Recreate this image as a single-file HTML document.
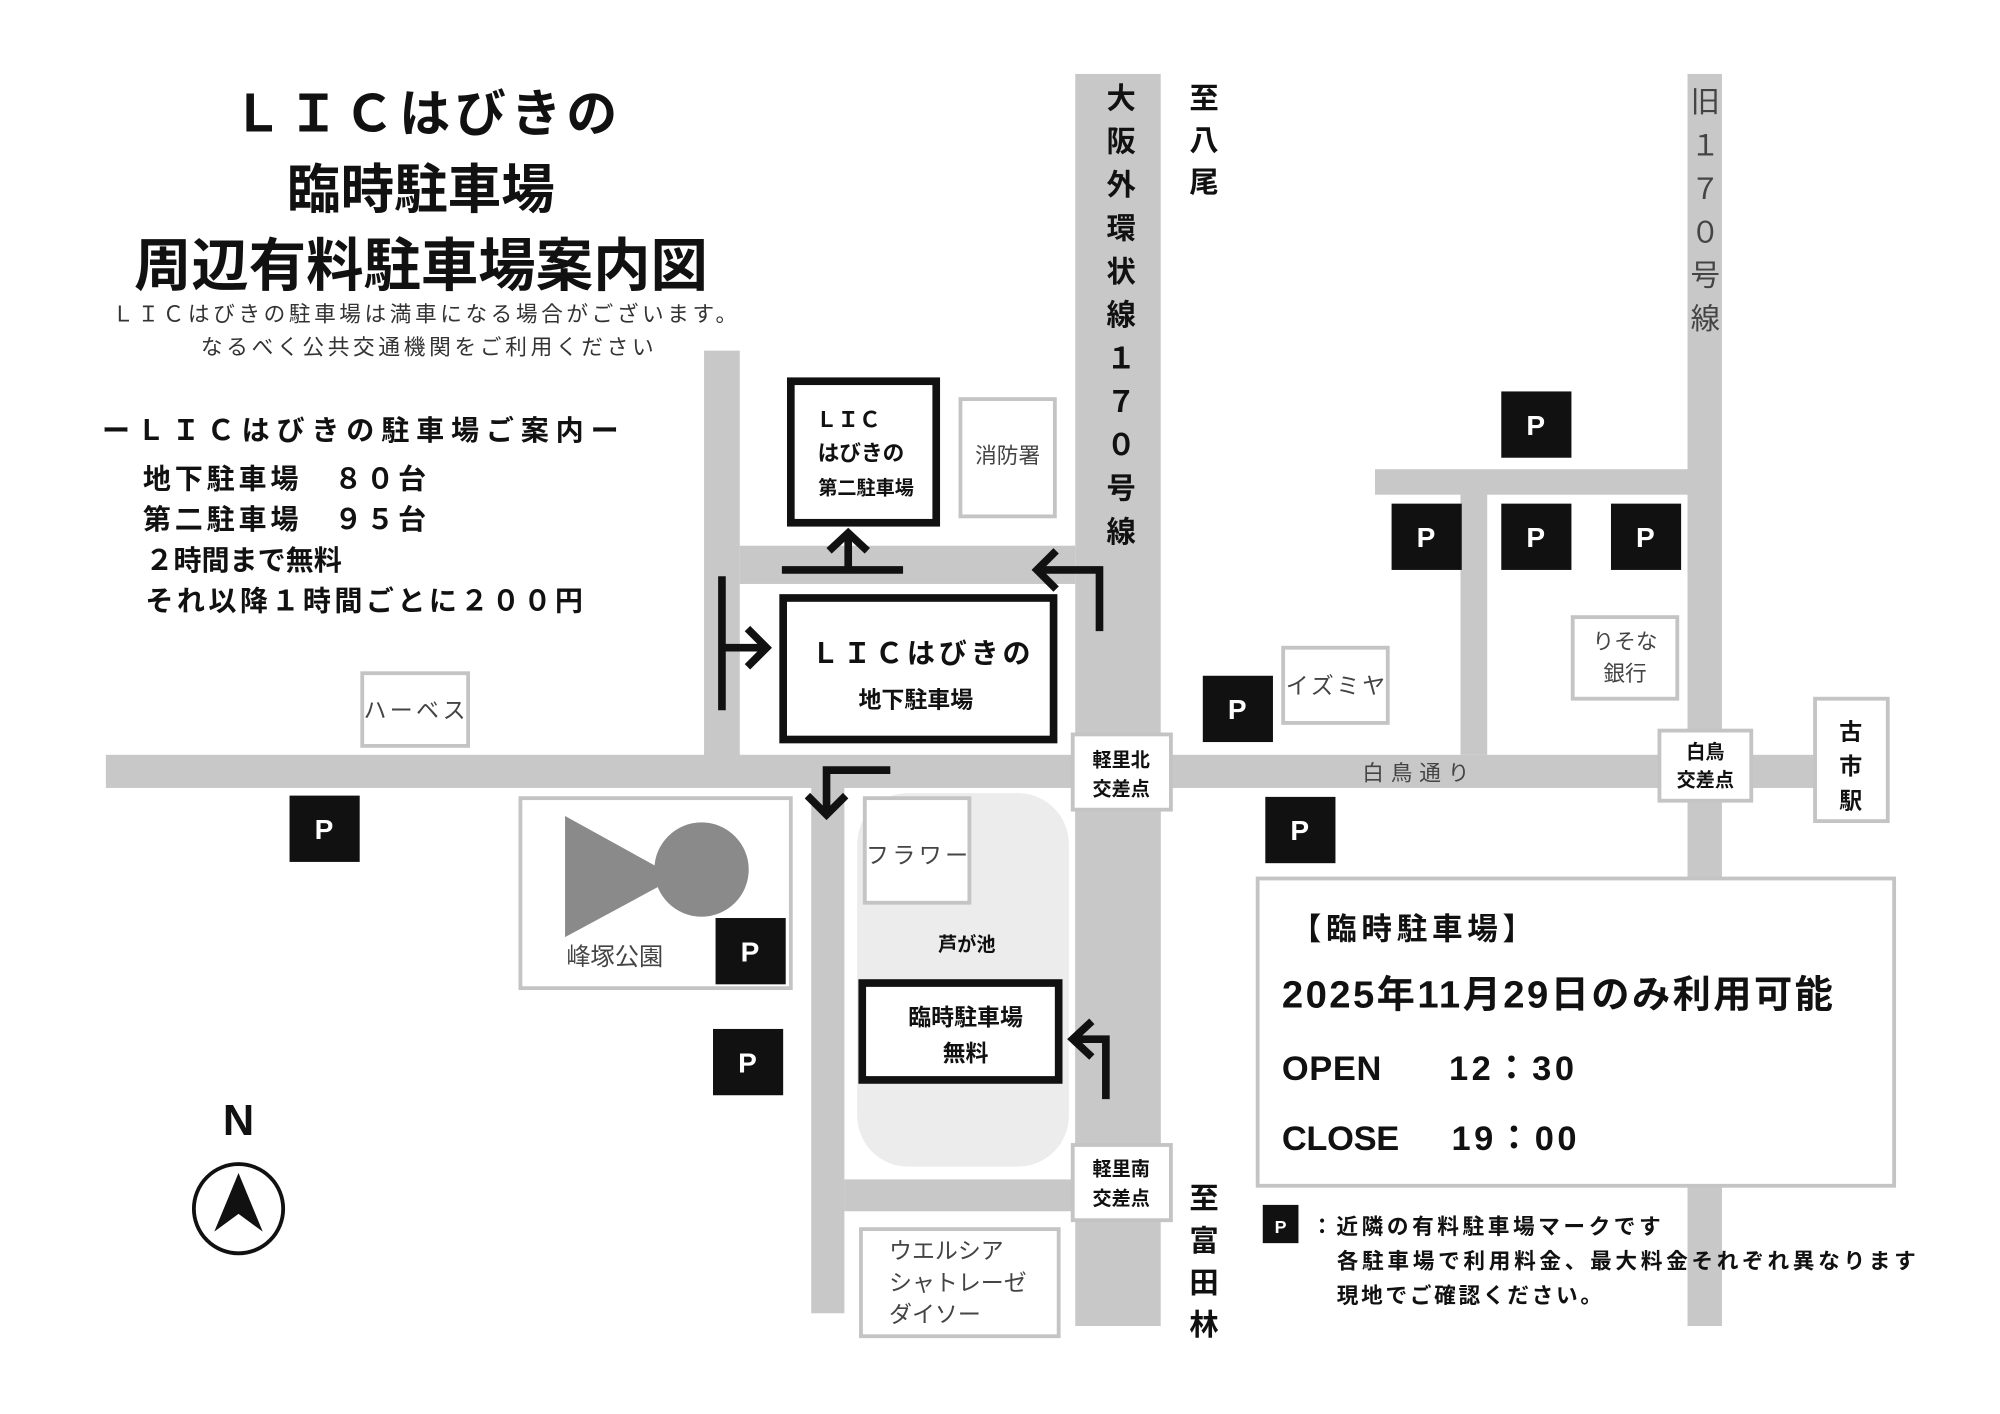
<!DOCTYPE html>
<html><head><meta charset="utf-8"><style>
html,body{margin:0;padding:0;background:#fff;}
svg{display:block;}
text{font-family:"Liberation Sans","Noto Sans CJK JP",sans-serif;}
.b{font-weight:bold;}
.w{fill:#fff;}
.g{fill:#444;}
</style></head><body>
<svg width="2000" height="1414" viewBox="0 0 1568 1109" preserveAspectRatio="none" xmlns="http://www.w3.org/2000/svg">
<rect width="1568" height="1109" fill="#fff"/>
<g fill="#c8c8c8">
<rect x="843" y="58" width="67" height="982"/>
<rect x="83" y="592" width="1397" height="26"/>
<rect x="552" y="275" width="28" height="325"/>
<rect x="580" y="428" width="263" height="30"/>
<rect x="636" y="600" width="26" height="430"/>
<rect x="662" y="925" width="181" height="25"/>
<rect x="1323" y="58" width="27" height="982"/>
<rect x="1078" y="368" width="245" height="20"/>
<rect x="1145" y="380" width="21" height="212"/>
</g>
<rect x="672" y="622" width="166" height="293" rx="40" fill="#ececec"/>
<rect x="843" y="622" width="67" height="293" fill="#c8c8c8"/>
<g fill="#111">
<text x="333" y="103" text-anchor="middle" class="b" font-size="40" textLength="302">ＬＩＣはびきの</text>
<text x="330" y="163" text-anchor="middle" class="b" font-size="42">臨時駐車場</text>
<text x="330" y="224" text-anchor="middle" class="b" font-size="45">周辺有料駐車場案内図</text>
<text x="333" y="252" text-anchor="middle" font-size="17" fill="#333" textLength="490">ＬＩＣはびきの駐車場は満車になる場合がございます。</text>
<text x="335" y="278" text-anchor="middle" font-size="17" fill="#333" textLength="355">なるべく公共交通機関をご利用ください</text>
<text x="80" y="345" class="b" font-size="22" textLength="405">ーＬＩＣはびきの駐車場ご案内ー</text>
<text x="112" y="383" class="b" font-size="22" textLength="222">地下駐車場　８０台</text>
<text x="112" y="415" class="b" font-size="22" textLength="222">第二駐車場　９５台</text>
<text x="114" y="447" class="b" font-size="22">２時間まで無料</text>
<text x="114" y="479" class="b" font-size="22" textLength="343">それ以降１時間ごとに２００円</text>
</g>
<g fill="#fff" stroke="#111" stroke-width="6">
<rect x="620" y="299" width="114" height="111"/>
<rect x="614" y="469" width="212" height="111"/>
<rect x="676" y="771" width="154" height="76"/>
</g>
<g fill="#111">
<text x="665" y="335" class="b" font-size="17" text-anchor="middle">ＬＩＣ</text>
<text x="675" y="361" class="b" font-size="17" text-anchor="middle">はびきの</text>
<text x="679" y="388" class="b" font-size="15" text-anchor="middle">第二駐車場</text>
<text x="722" y="520" class="b" font-size="22" text-anchor="middle" textLength="172">ＬＩＣはびきの</text>
<text x="718" y="555" class="b" font-size="18" text-anchor="middle">地下駐車場</text>
<text x="757" y="804" class="b" font-size="18" text-anchor="middle">臨時駐車場</text>
<text x="757" y="832" class="b" font-size="18" text-anchor="middle">無料</text>
</g>
<g fill="#fff" stroke="#c4c4c4" stroke-width="3">
<rect x="753" y="313" width="74" height="92"/>
<rect x="284" y="528" width="83" height="57"/>
<rect x="1006" y="508" width="82" height="59"/>
<rect x="1233" y="484" width="82" height="64"/>
<rect x="1301" y="573" width="72" height="55"/>
<rect x="1423" y="548" width="57" height="96"/>
<rect x="841" y="576" width="77" height="59"/>
<rect x="841" y="898" width="77" height="59"/>
<rect x="678" y="626" width="82" height="82"/>
<rect x="408" y="626" width="212" height="149"/>
<rect x="675" y="964" width="155" height="84"/>
<rect x="986" y="689" width="499" height="241"/>
</g>
<text x="790" y="363" font-size="17" text-anchor="middle" class="g">消防署</text>
<text x="325" y="563" font-size="18" text-anchor="middle" class="g" textLength="80">ハーベス</text>
<text x="1047" y="544" font-size="18" text-anchor="middle" class="g" textLength="78">イズミヤ</text>
<text x="1274" y="509" font-size="17" text-anchor="middle" class="g">りそな</text>
<text x="1274" y="534" font-size="17" text-anchor="middle" class="g">銀行</text>
<g fill="#111">
<text x="1337" y="595" class="b" font-size="15" text-anchor="middle">白鳥</text>
<text x="1337" y="617" class="b" font-size="15" text-anchor="middle">交差点</text>
<text x="1451" y="580" class="b" font-size="18" text-anchor="middle">古</text>
<text x="1451" y="607" class="b" font-size="18" text-anchor="middle">市</text>
<text x="1451" y="634" class="b" font-size="18" text-anchor="middle">駅</text>
<text x="879" y="601" class="b" font-size="15" text-anchor="middle">軽里北</text>
<text x="879" y="624" class="b" font-size="15" text-anchor="middle">交差点</text>
<text x="879" y="922" class="b" font-size="15" text-anchor="middle">軽里南</text>
<text x="879" y="945" class="b" font-size="15" text-anchor="middle">交差点</text>
<text x="758" y="746" class="b" font-size="15" text-anchor="middle">芦が池</text>
</g>
<text x="719" y="677" font-size="18" text-anchor="middle" class="g" textLength="80">フラワー</text>
<text x="1068" y="612" font-size="17" class="g" textLength="84">白鳥通り</text>
<text x="482" y="757" font-size="19" text-anchor="middle" class="g">峰塚公園</text>
<polygon points="443,640 443,735 530,688" fill="#8a8a8a"/>
<circle cx="550" cy="682" r="37" fill="#8a8a8a"/>
<text x="697" y="987" font-size="18" class="g">ウエルシア</text>
<text x="697" y="1012" font-size="18" class="g">シャトレーゼ</text>
<text x="697" y="1037" font-size="18" class="g">ダイソー</text>
<g class="b" font-size="23" text-anchor="middle" fill="#111">
<text x="879" y="85">大</text><text x="879" y="119">阪</text><text x="879" y="153">外</text><text x="879" y="187">環</text><text x="879" y="221">状</text><text x="879" y="255">線</text><text x="879" y="289">１</text><text x="879" y="323">７</text><text x="879" y="357">０</text><text x="879" y="391">号</text><text x="879" y="425">線</text>
<text x="944" y="85">至</text><text x="944" y="118">八</text><text x="944" y="151">尾</text>
<text x="944" y="948">至</text><text x="944" y="981">富</text><text x="944" y="1014">田</text><text x="944" y="1047">林</text>
</g>
<g font-size="23" text-anchor="middle" class="g">
<text x="1337" y="88" class="g">旧</text><text x="1337" y="122" class="g">１</text><text x="1337" y="156" class="g">７</text><text x="1337" y="190" class="g">０</text><text x="1337" y="224" class="g">号</text><text x="1337" y="258" class="g">線</text>
</g>
<g stroke="#111" stroke-width="6" fill="none">
<line x1="613" y1="447" x2="708" y2="447"/>
<line x1="665" y1="447" x2="665" y2="418"/>
<polyline points="650,432 665,418 680,432"/>
<polyline points="862,495 862,447 813,447"/>
<polyline points="828,432 813,447 828,462"/>
<line x1="566" y1="452" x2="566" y2="557"/>
<line x1="566" y1="508" x2="600" y2="508"/>
<polyline points="586,493 601,508 586,523"/>
<polyline points="698,604 648,604 648,638"/>
<polyline points="633,624 648,639 663,624"/>
<polyline points="867,862 867,815 842,815"/>
<polyline points="856,801 841,815 856,829"/>
</g>
<g fill="#111">
<rect x="1177" y="307" width="55" height="52"/>
<rect x="1091" y="395" width="55" height="52"/>
<rect x="1177" y="395" width="55" height="52"/>
<rect x="1263" y="395" width="55" height="52"/>
<rect x="943" y="530" width="55" height="52"/>
<rect x="227" y="624" width="55" height="52"/>
<rect x="992" y="625" width="55" height="52"/>
<rect x="561" y="720" width="55" height="52"/>
<rect x="559" y="807" width="55" height="52"/>
<rect x="990" y="945" width="28" height="30"/>
</g>
<g class="b" font-size="22" text-anchor="middle">
<text x="1204" y="341" class="w">P</text><text x="1118" y="429" class="w">P</text><text x="1204" y="429" class="w">P</text><text x="1290" y="429" class="w">P</text><text x="970" y="564" class="w">P</text><text x="254" y="658" class="w">P</text><text x="1019" y="659" class="w">P</text><text x="588" y="754" class="w">P</text><text x="586" y="841" class="w">P</text><text x="1004" y="967" font-size="14" class="w">P</text>
</g>
<g fill="#111">
<text x="1012" y="737" class="b" font-size="24" textLength="190">【臨時駐車場】</text>
<text x="1005" y="790" class="b" font-size="30" textLength="432">2025年11月29日のみ利用可能</text>
<text x="1005" y="847" class="b" font-size="27" textLength="78">OPEN</text>
<text x="1136" y="847" class="b" font-size="27" textLength="98">12：30</text>
<text x="1005" y="902" class="b" font-size="27" textLength="92">CLOSE</text>
<text x="1138" y="902" class="b" font-size="27" textLength="98">19：00</text>
<text x="1028" y="968" class="b" font-size="17" textLength="274">：近隣の有料駐車場マークです</text>
<text x="1048" y="995" class="b" font-size="17" textLength="454">各駐車場で利用料金、最大料金それぞれ異なります</text>
<text x="1048" y="1022" class="b" font-size="17" textLength="208">現地でご確認ください。</text>
<text x="187" y="890" class="b" font-size="34" text-anchor="middle">N</text>
</g>
<circle cx="187" cy="948" r="35" fill="#fff" stroke="#111" stroke-width="3"/>
<polygon points="187,920 168,966 187,952 206,966" fill="#111"/>
</svg>
</body></html>
